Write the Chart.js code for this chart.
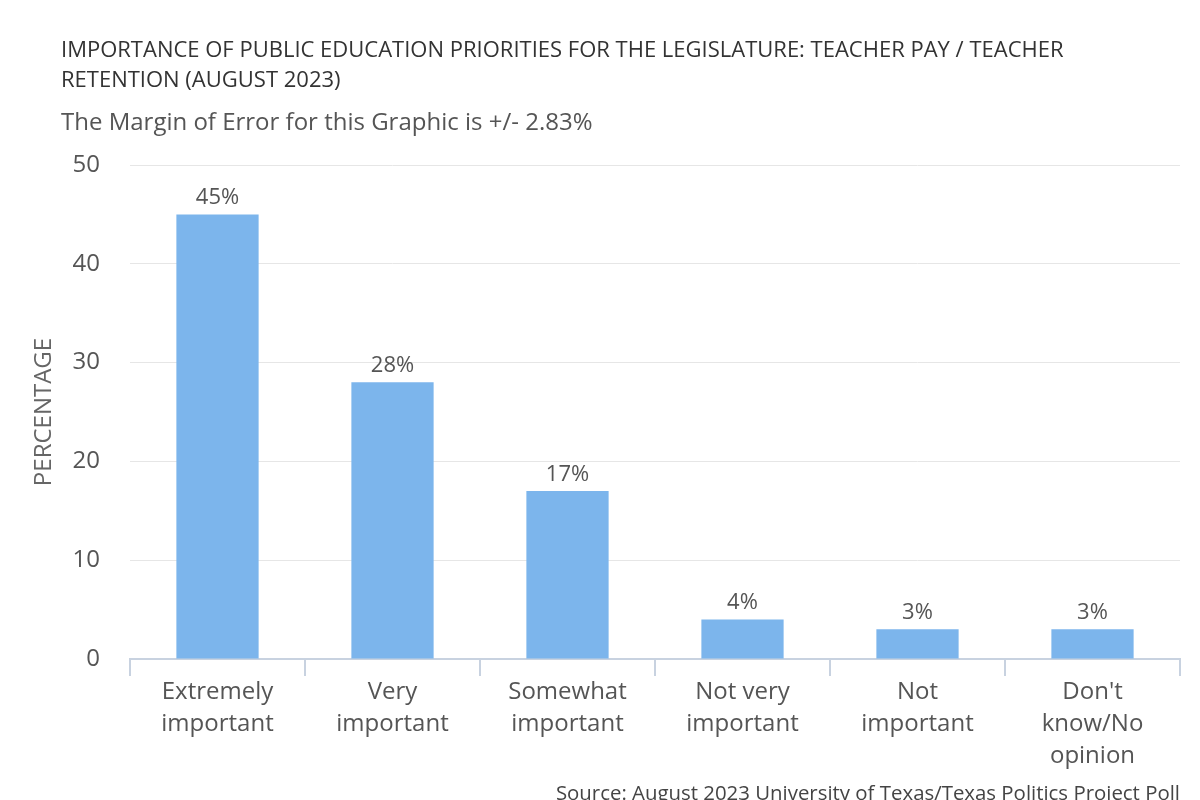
<!DOCTYPE html>
<html><head><meta charset="utf-8">
<script src="https://cdn.jsdelivr.net/npm/chart.js@4.4.0/dist/chart.umd.min.js"></script>
<style>html,body{margin:0;padding:0;background:#fff}#wrap{width:1200px;height:800px}</style>
</head><body><div id="wrap"><canvas id="c" width="1200" height="800"></canvas></div>
<script>
const categories = [["Extremely","important"],["Very","important"],["Somewhat","important"],["Not very","important"],["Not","important"],["Don't","know/No","opinion"]];
const values = [45, 28, 17, 4, 3, 3];
const yTicks = [0, 10, 20, 30, 40, 50];
const titleLines = ["IMPORTANCE OF PUBLIC EDUCATION PRIORITIES FOR THE LEGISLATURE: TEACHER PAY / TEACHER","RETENTION (AUGUST 2023)"];
const subtitle = "The Margin of Error for this Graphic is +/- 2.83%";
const yTitle = "PERCENTAGE";
const source = "Source: August 2023 University of Texas/Texas Politics Project Poll";
const FONT = '"Open Sans", "Noto Sans", sans-serif';

const deco = {
  id:'deco',
  afterDraw(chart){
    const ctx = chart.ctx;
    ctx.save();
    ctx.fillStyle = '#333333';
    ctx.font = '22px ' + FONT;
    ctx.textBaseline = 'middle';
    ctx.textAlign = 'left';
    ctx.fillText(titleLines[0], 61, 51);
    ctx.fillText(titleLines[1], 61, 81);
    ctx.fillStyle = '#555555';
    ctx.font = '24px ' + FONT;
    ctx.fillText(subtitle, 61, 123);
    // data labels
    const meta = chart.getDatasetMeta(0);
    ctx.font = '22px ' + FONT;
    ctx.textAlign = 'center';
    ctx.textBaseline = 'alphabetic';
    ctx.fillStyle = '#555555';
    meta.data.forEach((bar, i) => {
      ctx.fillText(values[i] + '%', bar.x, bar.y - 10);
    });
    // y title
    const ca = chart.chartArea;
    ctx.save();
    ctx.translate(44, (ca.top + ca.bottom) / 2);
    ctx.rotate(-Math.PI / 2);
    ctx.textBaseline = 'middle';
    ctx.font = '24px ' + FONT;
    ctx.fillStyle = '#666666';
    ctx.fillText(yTitle, 0, 0);
    ctx.restore();
    // source
    ctx.textAlign = 'right';
    ctx.textBaseline = 'alphabetic';
    ctx.font = '20.4px ' + FONT;
    ctx.fillStyle = '#444444';
    ctx.fillText(source, 1180, 800);
    ctx.restore();
  }
};

new Chart(document.getElementById('c'), {
  type: 'bar',
  data: { labels: categories, datasets: [{ data: values, backgroundColor: '#7cb5ec', barPercentage: 0.47, categoryPercentage: 1.0 }] },
  options: {
    responsive: false, animation: false,
    layout: { padding: { top: 165, right: 20, left: 0, bottom: 0 } },
    plugins: { legend: { display: false }, tooltip: { enabled: false } },
    scales: {
      x: {
        offset: true,
        grid: { display: true, drawOnChartArea: false, drawTicks: true, tickLength: 17, color: '#c8d2e0', lineWidth: 2, offset: true },
        border: { display: true, color: '#c8d2e0', width: 2 },
        ticks: { color: '#555555', font: { family: FONT, size: 24, lineHeight: 1.33 }, padding: 0, maxRotation: 0, autoSkip: false },
        afterFit(s){ s.height = 141; }
      },
      y: {
        min: 0, max: 50,
        afterBuildTicks(s){ s.ticks = yTicks.map(v => ({ value: v })); },
        grid: { color: '#e6e6e6', lineWidth: 1, drawTicks: false },
        border: { display: false },
        ticks: { color: '#555555', font: { family: FONT, size: 24 }, padding: 30 },
        afterFit(s){ s.width = 130; }
      }
    }
  },
  plugins: [deco]
});
</script></body></html>
